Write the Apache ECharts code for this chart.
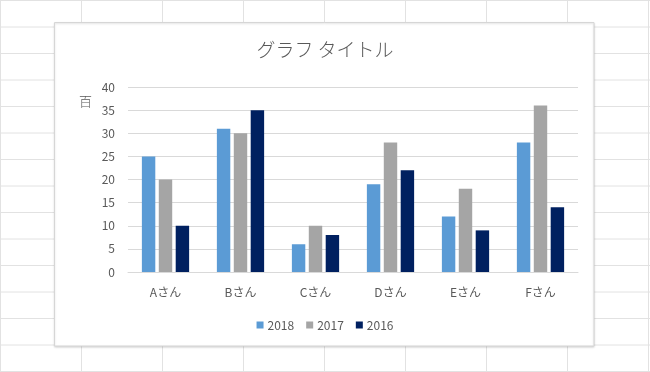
<!DOCTYPE html>
<html>
<head>
<meta charset="utf-8">
<script src="https://cdn.jsdelivr.net/npm/echarts@6/dist/echarts.min.js"></script>
<style>
html,body{margin:0;padding:0;background:#fff;}
#chart{width:650px;height:372px;}
</style>
</head>
<body>
<div id="chart"></div>
<script>
const categories = ['Aさん', 'Bさん', 'Cさん', 'Dさん', 'Eさん', 'Fさん'];
const seriesNames = ['2018', '2017', '2016'];
const values2018 = [25, 31, 6, 19, 12, 28];
const values2017 = [20, 30, 10, 28, 18, 36];
const values2016 = [10, 35, 8, 22, 9, 14];
const yTicks = [0, 5, 10, 15, 20, 25, 30, 35, 40];
const titleText = 'グラフ タイトル';
const unitLabel = '百';

const FONT = '"Noto Sans CJK JP", "Noto Sans", sans-serif';
const colors = ['#5B9BD5', '#A5A5A5', '#002060'];

// spreadsheet-like background (decoration)
const bg = [];
const W = 650, H = 372;
for (let i = 0; i <= 14; i++) {
  const y = 0.5 + i * 26.5;
  bg.push({type: 'line', silent: true, z: -10, shape: {x1: 0, y1: y, x2: W, y2: y}, style: {stroke: '#e2e2e2', lineWidth: 1}});
}
for (let j = 0; j <= 8; j++) {
  const x = 0.5 + j * 81.0;
  bg.push({type: 'line', silent: true, z: -10, shape: {x1: x, y1: 0, x2: x, y2: H}, style: {stroke: '#e2e2e2', lineWidth: 1}});
}
bg.push({
  type: 'rect', silent: true, z: -5,
  shape: {x: 54.5, y: 22.5, width: 539.5, height: 323.5},
  style: {fill: '#ffffff', stroke: '#d6d6d6', lineWidth: 1, shadowBlur: 2, shadowOffsetY: 1, shadowColor: 'rgba(0,0,0,0.15)'}
});

const chart = echarts.init(document.getElementById('chart'), null, {renderer: 'canvas'});
chart.setOption({
  animation: false,
  backgroundColor: '#ffffff',
  textStyle: {fontFamily: FONT},
  graphic: bg,
  title: {
    text: titleText,
    left: 'center',
    top: 35,
    textStyle: {fontFamily: FONT, fontSize: 19, fontWeight: 300, color: '#595959'}
  },
  legend: {
    data: seriesNames,
    bottom: 36,
    left: 'center',
    itemWidth: 7,
    itemHeight: 7,
    itemGap: 12,
    icon: 'rect',
    textStyle: {fontFamily: FONT, fontSize: 12, color: '#595959', padding: [0, 0, 0, -1]}
  },
  grid: {left: 128, right: 72, top: 87, bottom: 100, containLabel: false},
  xAxis: {
    type: 'category',
    data: categories,
    axisLine: {show: true, lineStyle: {color: '#d9d9d9'}},
    axisTick: {show: false},
    axisLabel: {fontFamily: FONT, fontSize: 12, color: '#595959', margin: 14}
  },
  yAxis: {
    type: 'value',
    min: yTicks[0],
    max: yTicks[yTicks.length - 1],
    interval: 5,
    name: unitLabel,
    nameLocation: 'end',
    nameGap: -14,
    nameTextStyle: {fontFamily: FONT, fontSize: 13, fontWeight: 300, color: '#595959', align: 'right', verticalAlign: 'middle', padding: [0, 36, 0, 0]},
    axisLine: {show: false},
    axisTick: {show: false},
    splitLine: {lineStyle: {color: '#d9d9d9', width: 1}},
    axisLabel: {fontFamily: FONT, fontSize: 12, color: '#595959', margin: 13}
  },
  series: [
    {name: seriesNames[0], type: 'bar', data: values2018, itemStyle: {color: colors[0]}, barGap: '26%', barCategoryGap: '37%'},
    {name: seriesNames[1], type: 'bar', data: values2017, itemStyle: {color: colors[1]}, barGap: '26%', barCategoryGap: '37%'},
    {name: seriesNames[2], type: 'bar', data: values2016, itemStyle: {color: colors[2]}, barGap: '26%', barCategoryGap: '37%'}
  ]
});
</script>
</body>
</html>
